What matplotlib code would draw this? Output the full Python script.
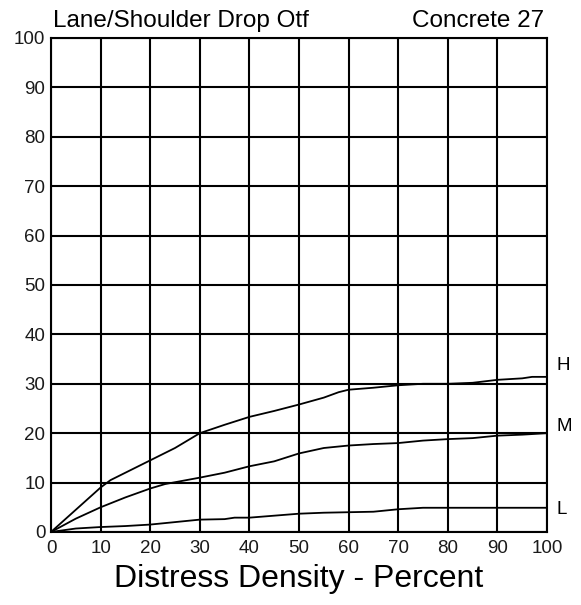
import numpy as np
import matplotlib.pyplot as plt

plt.rcParams['font.family'] = ['Liberation Sans', 'DejaVu Sans']

# distress density (percent) and deduct values
h_x = [0, 5, 10, 12, 15, 20, 25, 30, 35, 40, 45, 50, 55, 58, 60, 65, 70, 75, 80, 85, 90, 95, 97, 100]
h_y = [0, 4.5, 9, 10.5, 12, 14.5, 17, 20, 21.7, 23.3, 24.5, 25.8, 27.2, 28.3, 28.8, 29.2, 29.7, 30.0, 30.0, 30.2, 30.8, 31.1, 31.4, 31.4]
m_x = [0, 5, 10, 15, 20, 23, 30, 35, 40, 45, 50, 55, 60, 65, 70, 75, 80, 85, 90, 95, 100]
m_y = [0, 2.7, 5, 7, 8.8, 9.7, 11, 12, 13.3, 14.3, 15.9, 17, 17.5, 17.8, 18.0, 18.5, 18.8, 19.0, 19.5, 19.7, 20.0]
l_x = [0, 5, 10, 15, 20, 25, 30, 35, 37, 40, 45, 50, 55, 60, 65, 70, 75, 80, 90, 100]
l_y = [0, 0.7, 1.0, 1.2, 1.5, 2.0, 2.5, 2.6, 2.9, 2.9, 3.3, 3.7, 3.9, 4.0, 4.1, 4.6, 4.9, 4.9, 4.9, 4.9]

ticks = np.arange(0, 101, 10)

fig = plt.figure(figsize=(5.81, 6.05), dpi=100)
ax = fig.add_axes([0.0878, 0.1207, 0.8537, 0.8165])

ax.plot(h_x, h_y, color="black", linewidth=1.3)
ax.plot(m_x, m_y, color="black", linewidth=1.3)
ax.plot(l_x, l_y, color="black", linewidth=1.3)

ax.set_xlim(0, 100)
ax.set_ylim(0, 100)
ax.set_xticks(ticks)
ax.set_yticks(ticks)
ax.grid(True, color="black", linewidth=1.5)
for s in ax.spines.values():
    s.set_linewidth(1.5)
ax.tick_params(length=0, labelsize=13.5, labelcolor="#1a1a1a")
ax.tick_params(axis="y", pad=4)
ax.tick_params(axis="x", pad=6)

ax.text(102, 33.8, "H", fontsize=13.5, va="center", ha="left")
ax.text(102, 21.4, "M", fontsize=13.5, va="center", ha="left")
ax.text(102, 4.5, "L", fontsize=13.5, va="center", ha="left")

ax.set_xlabel("Distress Density - Percent", fontsize=23, labelpad=5)
fig.text(0.091, 0.955, "Lane/Shoulder Drop Otf", fontsize=17.5, ha="left", va="baseline")
fig.text(0.937, 0.955, "Concrete 27", fontsize=17.5, ha="right", va="baseline")

plt.savefig("out.png", dpi=100)
